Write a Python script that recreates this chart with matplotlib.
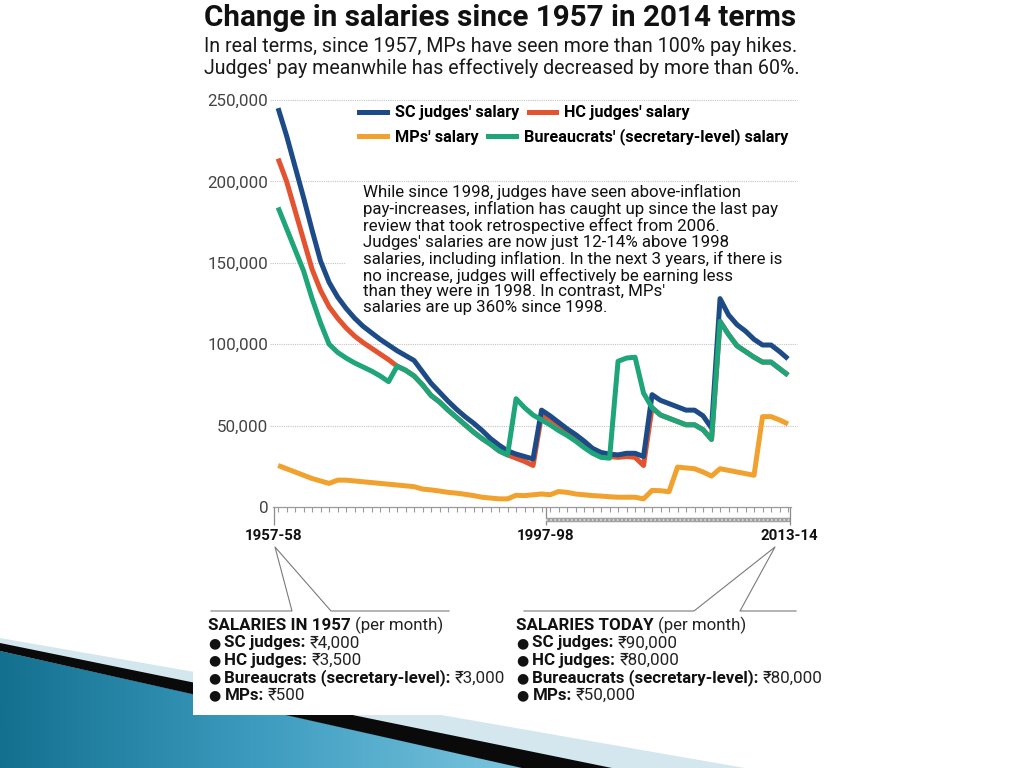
import numpy as np
import matplotlib
matplotlib.use("Agg")
import matplotlib.pyplot as plt
from matplotlib.patches import Polygon, Rectangle
from matplotlib.lines import Line2D

plt.rcParams['font.family'] = ['Roboto', 'DejaVu Sans']

# one value per point on the x axis (61 points, 1957-58 .. 2013-14), in rupees of 2014
sc_judges = [245, 228, 209, 190, 170, 151, 138, 129, 122, 116,
             111, 107, 103, 99.5, 96, 93, 90, 83, 76, 70.5,
             65, 60, 55.5, 51.5, 47, 42, 38, 34.5, 32.5, 31,
             29.5, 59.5, 56, 52, 48, 44.5, 40.5, 36, 33.5, 32.5,
             32, 33, 33, 31, 69, 65.5, 63.5, 61.5, 59.5, 59.5,
             56, 48.5, 128, 118, 112, 108, 103, 99.5, 99.5, 95.5, 91]
hc_judges = [214, 200, 182, 164, 146, 133, 123, 116, 110, 105,
             101, 97.5, 94, 90.5, 86.5, 84, 80.5, 75, 68.5, 64.5,
             59.5, 55, 50.5, 46, 42, 38.5, 34.5, 32, 30, 28,
             25.5, 56.5, 54, 50.5, 46.5, 43, 39, 35, 32, 31,
             30.5, 31, 30.5, 25.5, 61, 56.5, 54.5, 52.5, 50.5, 50.5,
             47.5, 41.5, 114, 106, 99, 95.5, 92, 89, 89, 85, 81]
bureaucrats = [184, 171, 158, 145, 128, 113, 100, 95, 91.5, 88.5,
               86, 83.5, 80.5, 77, 86.5, 84, 80.5, 75, 68.5, 64.5,
               59.5, 55, 50.5, 46, 42, 38.5, 34.5, 32, 66.5, 61,
               56.5, 53.5, 50.5, 47, 44, 40.5, 36.5, 33, 30.5, 30,
               89.5, 91.5, 92, 70, 61, 56.5, 54.5, 52.5, 50.5, 50.5,
               47.5, 41.5, 114, 106, 99, 95.5, 92, 89, 89, 85, 81]
mps = [25.5, 23.5, 21.5, 19.5, 17.5, 16, 14.5, 16.5, 16.5, 16,
       15.5, 15, 14.5, 14, 13.5, 13, 12.5, 11, 10.5, 9.8,
       9, 8.5, 7.8, 7, 6, 5.5, 5, 5, 7.2, 7,
       7.5, 8, 7.5, 9.5, 9, 8, 7.5, 7, 6.7, 6.3,
       6, 6, 6, 5, 10.2, 10, 9.4, 24.5, 24, 23.5,
       21.5, 19, 23.5, 22.5, 21.5, 20.5, 19.5, 55.5, 55.5, 53.5, 51]

period_labels = ['1957-58', '1997-98', '2013-14']
period_pos = [-0.5, 31.5, 60.2]
y_ticks = [0, 50000, 100000, 150000, 200000, 250000]

series = [
    ("MPs' salary", mps, '#f0a12e'),
    ("HC judges' salary", hc_judges, '#e4532f'),
    ("SC judges' salary", sc_judges, '#1c4b87'),
    ("Bureaucrats' (secretary-level) salary", bureaucrats, '#1ea57a'),
]

note = ("While since 1998, judges have seen above-inflation\n"
        "pay-increases, inflation has caught up since the last pay\n"
        "review that took retrospective effect from 2006.\n"
        "Judges' salaries are now just 12-14% above 1998\n"
        "salaries, including inflation. In the next 3 years, if there is\n"
        "no increase, judges will effectively be earning less\n"
        "than they were in 1998. In contrast, MPs'\n"
        "salaries are up 360% since 1998.")

pay_1957 = [("SC judges:", "₹4,000"), ("HC judges:", "₹3,500"),
            ("Bureaucrats (secretary-level):", "₹3,000"), ("MPs:", "₹500")]
pay_today = [("SC judges:", "₹90,000"), ("HC judges:", "₹80,000"),
             ("Bureaucrats (secretary-level):", "₹80,000"), ("MPs:", "₹50,000")]

W, H = 1024, 768
fig = plt.figure(figsize=(10.24, 7.68), dpi=100)

# slide background: decoration bottom left, white picture on top
bg = fig.add_axes([0, 0, 1, 1], zorder=-1)
bg.set_xlim(0, W)
bg.set_ylim(H, 0)
bg.axis('off')
pale = Polygon([(0, 638), (745, 768), (610, 768), (0, 644)], closed=True,
               facecolor='#d5e7ee', edgecolor='none')
bg.add_patch(pale)
teal = Polygon([(0, 651), (525, 768), (0, 768)], closed=True, facecolor='none', edgecolor='none')
bg.add_patch(teal)
grad = np.linspace(0, 1, 256).reshape(1, -1)
cmap = matplotlib.colors.LinearSegmentedColormap.from_list('t', ['#13708f', '#3d9cc0', '#7cc6df'])
im = bg.imshow(grad, extent=(0, 525, 768, 640), cmap=cmap, aspect='auto', zorder=1)
im.set_clip_path(teal)
blade = Polygon([(0, 643), (612, 768), (522, 768), (0, 651)], closed=True,
                facecolor='#0a0a0a', edgecolor='none', zorder=2)
bg.add_patch(blade)
bg.add_patch(Rectangle((193, 0), 652, 715, facecolor='white', edgecolor='none', zorder=3))

# callout pointers under the axis
gl = dict(color='#7a7a7a', lw=0.8, zorder=4)
bg.plot([211, 292, 275, 331, 449], [611, 611, 547, 611, 611], **gl)
bg.plot([524, 694, 775, 740, 796], [611, 611, 547, 611, 611], **gl)

# chart
ax = fig.add_axes([273 / W, 1 - 507 / H, 518 / W, 407 / H])
x = np.arange(len(sc_judges))
for i, (name, vals, col) in enumerate(series):
    ax.plot(x, np.array(vals) * 1000, color=col, lw=3.6, solid_joinstyle='round',
            solid_capstyle='butt', zorder=3 + i, label=name)

ax.set_xlim(-0.6, 60.35)
ax.set_ylim(0, 250000)
for yv in y_ticks[1:]:
    right = (345 - 273) / 518 if yv == 150000 else 1.012   # note text interrupts this one
    ax.axhline(yv, xmin=-0.006, xmax=right, color='#c4c4c4', lw=0.8,
               ls=(0, (1, 1)), zorder=1, clip_on=False)
ax.set_yticks(y_ticks)
ax.set_yticklabels([f'{v:,}' for v in y_ticks])
ax.tick_params(axis='y', length=0, pad=3.3, labelsize=12.2, labelcolor='#444444')

ax.set_xticks(period_pos)
ax.set_xticklabels(period_labels, fontweight='bold')
ax.set_xticks(x, minor=True)
ax.tick_params(axis='x', which='major', length=13, width=0.9, color='#8a8a8a',
               pad=3, labelsize=10.8, labelcolor='#111111')
ax.tick_params(axis='x', which='minor', length=3.4, width=0.8, color='#9a9a9a')
for s in ['left', 'top', 'right']:
    ax.spines[s].set_visible(False)
ax.spines['bottom'].set_color('#9a9a9a')
ax.spines['bottom'].set_linewidth(0.9)

# scale bar after 1997-98
bar_y = -(520 - 507) / 407
ax.plot([period_pos[1], period_pos[2]], [bar_y, bar_y], transform=ax.get_xaxis_transform(),
        color='#a0a0a0', lw=3.2, clip_on=False, solid_capstyle='butt')
ax.plot([period_pos[1], period_pos[2]], [bar_y, bar_y], transform=ax.get_xaxis_transform(),
        color='#e0e0e0', lw=1.2, ls=(0, (1, 1.5)), clip_on=False)

# legend, two rows
handles = {name: Line2D([], [], color=col, lw=3.6) for name, _, col in series}
row1 = ["SC judges' salary", "HC judges' salary"]
row2 = ["MPs' salary", "Bureaucrats' (secretary-level) salary"]
for row, yy in [(row1, 113), (row2, 137)]:
    fig.legend([handles[n] for n in row], row, loc='center left',
               bbox_to_anchor=(359 / W, 1 - yy / H), ncol=2, frameon=False,
               handlelength=1.7, handletextpad=0.5, columnspacing=0.6,
               borderpad=0, borderaxespad=0,
               prop=dict(weight='bold', size=11.7))

fig.text(363 / W, 1 - 184 / H, note, fontsize=12.2, color='#111111', va='top', ha='left',
         linespacing=1.07, zorder=5)

# titles
fig.text(204 / W, 1 - 18 / H, 'Change in salaries since 1957 in 2014 terms',
         fontsize=21.3, fontweight='bold', color='#111111', va='center')
fig.text(204 / W, 1 - 46 / H, 'In real terms, since 1957, MPs have seen more than 100% pay hikes.',
         fontsize=14.1, color='#1a1a1a', va='center')
fig.text(204 / W, 1 - 68 / H, "Judges' pay meanwhile has effectively decreased by more than 60%.",
         fontsize=14.1, color='#1a1a1a', va='center')

renderer = fig.canvas.get_renderer()


def two_part(xp, yp, first, second, size=12.2, bullet=False):
    xs = xp
    if bullet:
        b = fig.text(xs / W, 1 - yp / H, '●', fontsize=size - 2, color='#111111',
                     va='center', family=['DejaVu Sans'])
        xs = b.get_window_extent(renderer).x1 + 4
    t = fig.text(xs / W, 1 - yp / H, first, fontsize=size, fontweight='bold',
                 color='#111111', va='center')
    x2 = t.get_window_extent(renderer).x1 + 4
    fig.text(x2 / W, 1 - yp / H, second, fontsize=size, color='#222222', va='center',
             family=['Roboto', 'Noto Sans', 'DejaVu Sans'])


for xp, head, rows in [(208, 'SALARIES IN 1957', pay_1957), (516, 'SALARIES TODAY', pay_today)]:
    two_part(xp, 625, head, '(per month)')
    for k, (lab, val) in enumerate(rows):
        two_part(xp, 643 + 17.5 * k, lab, val, bullet=True)

fig.savefig('out.png', dpi=100)
